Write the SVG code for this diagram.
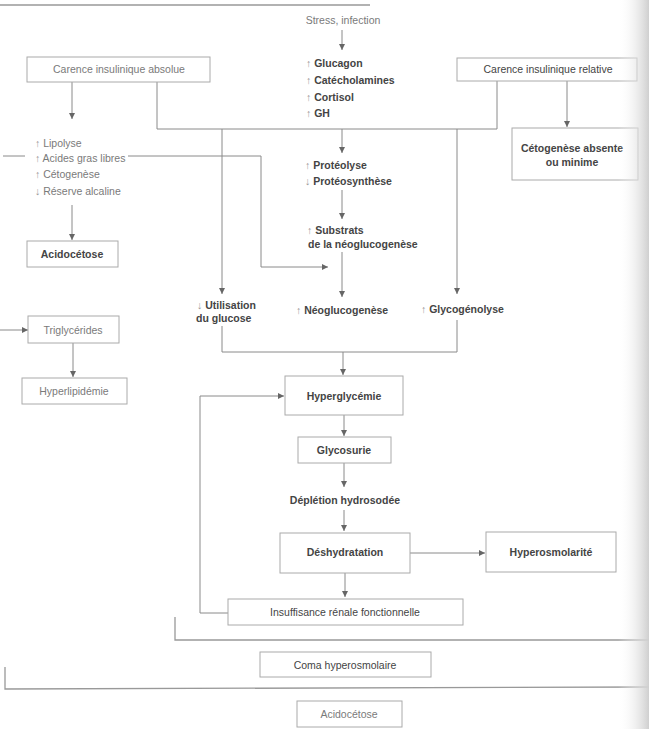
<svg xmlns="http://www.w3.org/2000/svg" width="649" height="729" viewBox="0 0 649 729">
<defs>
<marker id="ah" viewBox="0 0 10 10" refX="10" refY="5" markerWidth="6" markerHeight="6" orient="auto" markerUnits="userSpaceOnUse">
<path d="M0,0 L10,5 L0,10 z" fill="#666"/>
</marker>
<linearGradient id="shade" x1="0" y1="0" x2="1" y2="0">
<stop offset="0" stop-color="#ffffff" stop-opacity="0"/>
<stop offset="1" stop-color="#cfcfcf" stop-opacity="1"/>
</linearGradient>
<style>
text{font-family:"Liberation Sans",Arial,sans-serif;font-size:10.5px}
.lt{fill:#7a7a7a}
.dk{fill:#444;font-weight:bold}
.rg{fill:#444}
.ar{fill:#999;font-weight:normal}
.box{fill:#fff;stroke:#aaa;stroke-width:1}
.ln{fill:none;stroke:#8a8a8a;stroke-width:1}
.lnA{fill:none;stroke:#8a8a8a;stroke-width:1;marker-end:url(#ah)}
.rule{fill:none;stroke:#999;stroke-width:1.3}
.c{text-anchor:middle}
</style>
</defs>
<rect width="649" height="729" fill="#fff"/>

<g id="connectors">
<line class="rule" x1="0" y1="5" x2="370" y2="5"/>
<line class="lnA" x1="342" y1="30" x2="342" y2="50"/>
<line class="lnA" x1="72" y1="82" x2="72" y2="119"/>
<polyline class="ln" points="157,82 157,129 497,129 497,81"/>
<line class="lnA" x1="567" y1="81" x2="567" y2="127"/>
<line class="lnA" x1="342" y1="129" x2="342" y2="153"/>
<line class="lnA" x1="222" y1="129" x2="222" y2="294"/>
<line class="lnA" x1="457" y1="129" x2="457" y2="294"/>
<line class="ln" x1="3" y1="156" x2="25" y2="156"/>
<polyline class="lnA" points="128,156 261,156 261,267 328,267"/>
<line class="lnA" x1="72" y1="205" x2="72" y2="240"/>
<line class="lnA" x1="342" y1="190" x2="342" y2="219"/>
<line class="lnA" x1="342" y1="252" x2="342" y2="297"/>
<polyline class="ln" points="222,326 222,352 457,352 457,320"/>
<line class="lnA" x1="343" y1="352" x2="343" y2="375"/>
<line class="lnA" x1="0" y1="330" x2="28" y2="330"/>
<line class="lnA" x1="73" y1="343" x2="73" y2="377"/>
<polyline class="lnA" points="228,613 200,613 200,396 284,396"/>
<line class="lnA" x1="344" y1="415" x2="344" y2="436"/>
<line class="lnA" x1="344" y1="463" x2="344" y2="487"/>
<line class="lnA" x1="344" y1="510" x2="344" y2="531"/>
<line class="lnA" x1="410" y1="553" x2="485" y2="553"/>
<line class="lnA" x1="345" y1="573" x2="345" y2="597"/>
<polyline class="rule" points="175,617 175,640 649,640"/>
<polyline class="rule" points="5,667 5,689 649,687"/>
</g>

<g id="stress"><text class="lt c" x="343" y="24">Stress, infection</text></g>

<g id="hormones">
<text class="dk" x="306" y="67"><tspan class="ar">↑</tspan> Glucagon</text>
<text class="dk" x="306" y="84"><tspan class="ar">↑</tspan> Catécholamines</text>
<text class="dk" x="306" y="101"><tspan class="ar">↑</tspan> Cortisol</text>
<text class="dk" x="306" y="117"><tspan class="ar">↑</tspan> GH</text>
</g>

<g id="carence-absolue">
<rect class="box" x="27" y="57" width="183" height="25"/>
<text class="lt c" x="119" y="73">Carence insulinique absolue</text>
</g>

<g id="carence-relative">
<rect class="box" x="457" y="58" width="180" height="23"/>
<text class="rg c" x="548" y="73">Carence insulinique relative</text>
</g>

<g id="cetogenese-absente">
<rect class="box" x="512" y="128" width="126" height="52"/>
<text class="dk c" x="572" y="152">Cétogenèse absente</text>
<text class="dk c" x="572" y="166">ou minime</text>
</g>

<g id="lipolyse">
<text class="lt" x="35" y="147"><tspan class="ar">↑</tspan> Lipolyse</text>
<text class="lt" x="35" y="162"><tspan class="ar">↑</tspan> Acides gras libres</text>
<text class="lt" x="35" y="178"><tspan class="ar">↑</tspan> Cétogenèse</text>
<text class="lt" x="35" y="195"><tspan class="ar">↓</tspan>  Réserve alcaline</text>
</g>

<g id="acidocetose-1">
<rect class="box" x="27" y="241" width="91" height="26"/>
<text class="dk c" x="72" y="258">Acidocétose</text>
</g>

<g id="proteolyse">
<text class="dk" x="305" y="169"><tspan class="ar">↑</tspan> Protéolyse</text>
<text class="dk" x="305" y="185"><tspan class="ar">↓</tspan>  Protéosynthèse</text>
</g>

<g id="substrats">
<text class="dk" x="307" y="234"><tspan class="ar">↑</tspan> Substrats</text>
<text class="dk" x="308" y="248">de la néoglucogenèse</text>
</g>

<g id="utilisation">
<text class="dk" x="197" y="309"><tspan class="ar">↓</tspan> Utilisation</text>
<text class="dk" x="196" y="322">du glucose</text>
</g>

<g id="neoglucogenese"><text class="dk" x="296" y="314"><tspan class="ar">↑</tspan> Néoglucogenèse</text></g>

<g id="glycogenolyse"><text class="dk" x="421" y="313"><tspan class="ar">↑</tspan> Glycogénolyse</text></g>

<g id="triglycerides">
<rect class="box" x="28" y="316" width="91" height="27"/>
<text class="lt c" x="73" y="334">Triglycérides</text>
</g>

<g id="hyperlipidemie">
<rect class="box" x="22" y="378" width="105" height="26"/>
<text class="lt c" x="74" y="395">Hyperlipidémie</text>
</g>

<g id="hyperglycemie">
<rect class="box" x="285" y="376" width="118" height="39"/>
<text class="dk c" x="344" y="400">Hyperglycémie</text>
</g>

<g id="glycosurie">
<rect class="box" x="298" y="437" width="93" height="26"/>
<text class="dk c" x="344" y="454">Glycosurie</text>
</g>

<g id="depletion"><text class="dk c" x="345" y="504">Déplétion hydrosodée</text></g>

<g id="deshydratation">
<rect class="box" x="280" y="533" width="130" height="40"/>
<text class="dk c" x="345" y="556">Déshydratation</text>
</g>

<g id="hyperosmolarite">
<rect class="box" x="486" y="532" width="130" height="40"/>
<text class="dk c" x="551" y="556">Hyperosmolarité</text>
</g>

<g id="insuffisance">
<rect class="box" x="228" y="599" width="235" height="26"/>
<text class="rg c" x="345" y="616">Insuffisance rénale fonctionnelle</text>
</g>

<g id="coma">
<rect class="box" x="260" y="652" width="171" height="25"/>
<text class="rg c" x="345" y="669">Coma hyperosmolaire</text>
</g>

<g id="acidocetose-2">
<rect class="box" x="297" y="701" width="105" height="26"/>
<text class="lt c" x="349" y="718">Acidocétose</text>
</g>

<rect x="618" y="0" width="31" height="729" fill="url(#shade)"/>
</svg>
